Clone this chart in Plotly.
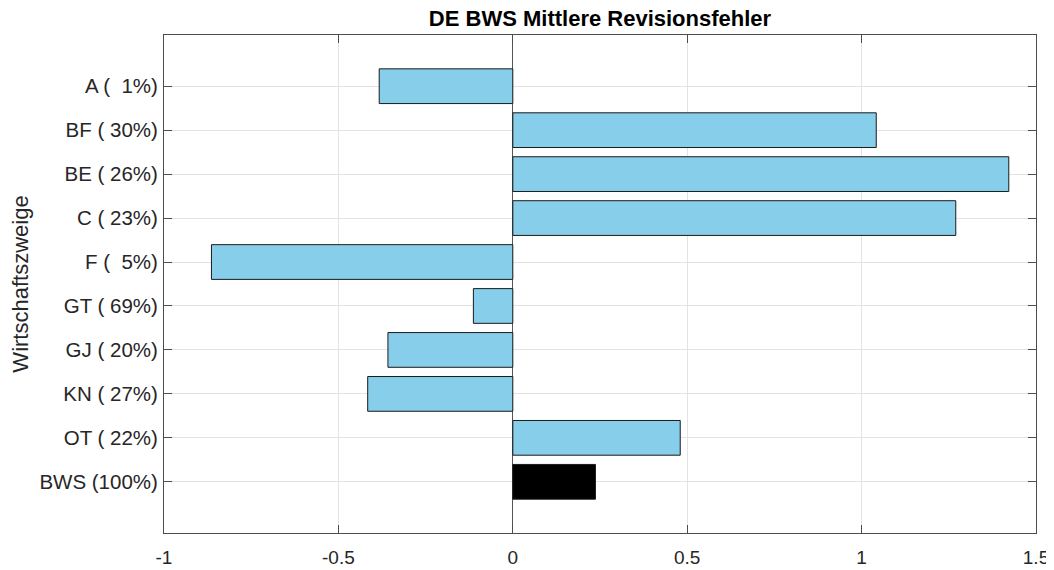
import plotly.graph_objects as go

codes = ["A", "BF", "BE", "C", "F", "GT", "GJ", "KN", "OT", "BWS"]
weights = [1, 30, 26, 23, 5, 69, 20, 27, 22, 100]
values = [-0.383, 1.042, 1.422, 1.270, -0.864, -0.113, -0.358, -0.416, 0.480, 0.237]
bar_colors = ["#87CEEB"] * 9 + ["#000000"]

NB = "\u00a0"
labels = [f"{c} ({str(w).rjust(3).replace(' ', NB)}%)" for c, w in zip(codes, weights)]

x_ticks = [-1, -0.5, 0, 0.5, 1, 1.5]
x_ticktext = ["-1", "-0.5", "0", "0.5", "1", "1.5"]

font_family = "Liberation Sans, Arial, Helvetica, sans-serif"

fig = go.Figure(
    go.Bar(
        x=values,
        y=labels,
        orientation="h",
        width=0.79,
        marker=dict(color=bar_colors, line=dict(color="#1a1a1a", width=1)),
        showlegend=False,
        hoverinfo="x+y",
    )
)

# the page body has an 8px margin, so the figure is sized to fit the window
fig.update_layout(
    width=1046,
    height=562,
    margin=dict(l=156, r=18, t=27, b=37, autoexpand=False),
    paper_bgcolor="white",
    plot_bgcolor="white",
    font=dict(family=font_family, size=19, color="#262626"),
    title=dict(
        text="<b>DE BWS Mittlere Revisionsfehler</b>",
        x=0.5, xref="paper", xanchor="center",
        y=1, yref="paper", yanchor="bottom", pad=dict(b=9),
        font=dict(family=font_family, size=22, color="#000000"),
    ),
    bargap=0.2,
)

fig.update_xaxes(
    range=[-1, 1.5],
    tickvals=x_ticks,
    ticktext=x_ticktext,
    ticks="inside",
    ticklen=8,
    tickcolor="#4d4d4d",
    showline=True,
    linecolor="#4d4d4d",
    linewidth=1,
    mirror="ticks",
    showgrid=True,
    gridcolor="#e3e3e3",
    gridwidth=1,
    zeroline=True,
    zerolinecolor="#555555",
    zerolinewidth=1,
    ticklabelstandoff=7,
    tickfont=dict(size=19, color="#262626"),
    automargin=False,
    fixedrange=True,
)

fig.update_yaxes(
    categoryorder="array",
    categoryarray=labels,
    range=[len(labels) - 1 + 1.165, -1.165],
    ticks="inside",
    ticklen=8,
    tickcolor="#4d4d4d",
    showline=True,
    linecolor="#4d4d4d",
    linewidth=1,
    mirror="ticks",
    showgrid=True,
    gridcolor="#e3e3e3",
    gridwidth=1,
    ticklabelstandoff=1,
    tickfont=dict(size=20.5, color="#262626"),
    title=dict(text="Wirtschaftszweige", font=dict(size=22, color="#262626"), standoff=6),
    automargin=False,
    fixedrange=True,
)

fig.write_html("out.html")
